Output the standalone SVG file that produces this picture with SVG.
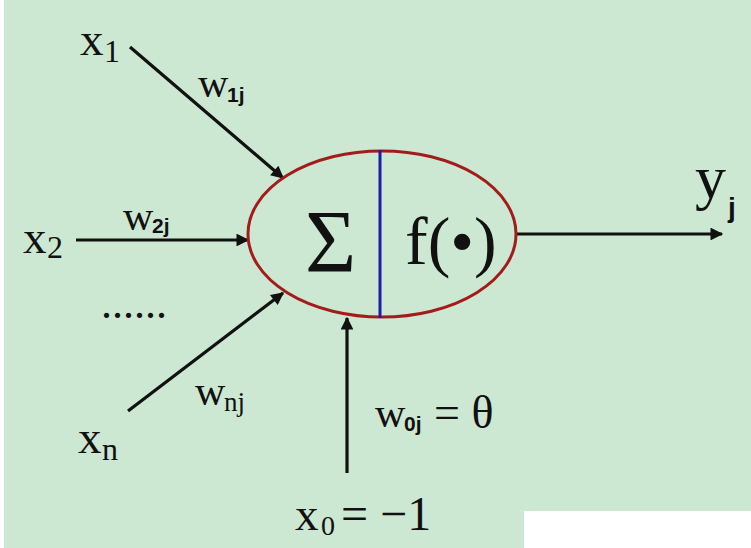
<svg xmlns="http://www.w3.org/2000/svg" width="751" height="548" viewBox="0 0 751 548">
<defs>
<style>
.t{font-family:"Liberation Serif","Times New Roman",serif;fill:#111}
.s{font-family:"Liberation Sans",Arial,sans-serif;fill:#111}
.ln{stroke:#111;stroke-width:3.2;fill:none}
</style>
<marker id="ah" viewBox="0 0 10 10" refX="9" refY="5" markerWidth="5.5" markerHeight="4" markerUnits="strokeWidth" orient="auto">
<path d="M0,0 L10,5 L0,10 Z" fill="#111"/>
</marker>
</defs>
<rect x="0" y="0" width="751" height="548" fill="#fff"/>
<rect x="4" y="0" width="747" height="548" fill="#cde8d2"/>
<rect x="524" y="511" width="227" height="37" fill="#fff"/>

<g id="connectors">
<line class="ln" x1="130" y1="47" x2="283" y2="178" marker-end="url(#ah)"/>
<line class="ln" x1="76" y1="240" x2="248" y2="240" marker-end="url(#ah)"/>
<line class="ln" x1="128" y1="411" x2="283" y2="293" marker-end="url(#ah)"/>
<line class="ln" x1="347" y1="473" x2="347" y2="318" marker-end="url(#ah)"/>
<line class="ln" x1="517" y1="234" x2="722" y2="234" marker-end="url(#ah)"/>
</g>

<g id="neuron">
<ellipse cx="382" cy="234" rx="134" ry="83" fill="none" stroke="#a31c1c" stroke-width="3"/>
<line x1="380" y1="150" x2="380" y2="318" stroke="#1c1ca8" stroke-width="3"/>
<text class="t" x="305" y="271" font-size="88">Σ</text>
<text class="t" x="405" y="264" font-size="68">f(•)</text>
</g>

<g id="x1"><text class="t" x="80" y="55" font-size="47">x</text><text class="t" x="104" y="62" font-size="32">1</text></g>
<g id="x2"><text class="t" x="23" y="253" font-size="47">x</text><text class="t" x="47" y="258" font-size="32">2</text></g>
<g id="dots"><text class="t" x="101" y="318" font-size="44">......</text></g>
<g id="xn"><text class="t" x="78" y="453" font-size="47">x</text><text class="t" x="102" y="460" font-size="32">n</text></g>
<g id="x0"><text class="t" x="295" y="530" font-size="47">x</text><text class="t" x="321" y="535" font-size="28">0</text><text class="t" x="341" y="530" font-size="48">= −1</text></g>

<g id="w1j"><text class="t" x="198" y="97" font-size="42">w</text><text class="s" x="227" y="102" font-size="21" font-weight="bold">1j</text></g>
<g id="w2j"><text class="t" x="123" y="230" font-size="42">w</text><text class="s" x="152" y="233" font-size="21" font-weight="bold">2j</text></g>
<g id="wnj"><text class="t" x="195" y="405" font-size="42">w</text><text class="t" x="224" y="411" font-size="27">nj</text></g>
<g id="w0j"><text class="t" x="375" y="427" font-size="42">w</text><text class="s" x="404" y="431" font-size="21" font-weight="bold">0j</text><text class="t" x="434" y="428" font-size="46">= θ</text></g>
<g id="yj"><text class="t" x="695" y="198" font-size="62">y</text><text class="s" x="728" y="217" font-size="28" font-weight="bold">j</text></g>
</svg>
